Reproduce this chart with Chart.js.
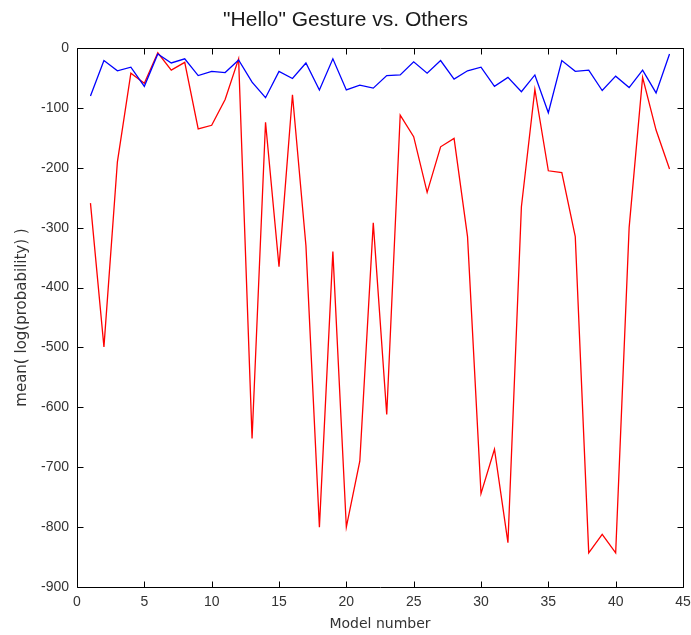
<!DOCTYPE html>
<html>
<head>
<meta charset="utf-8">
<script src="https://cdn.jsdelivr.net/npm/chart.js@4.4.1/dist/chart.umd.min.js"></script>
<style>
  html, body { margin: 0; padding: 0; background: #fff; }
  #wrap { width: 691px; height: 635px; }
</style>
</head>
<body>
<div id="wrap"><canvas id="c" width="691" height="635"></canvas></div>
<script>
const chartTitle = '"Hello" Gesture vs. Others';
const xAxisLabel = 'Model number';
const yAxisLabel = 'mean( log(probability) )';

const models = [1,2,3,4,5,6,7,8,9,10,11,12,13,14,15,16,17,18,19,20,21,22,23,24,25,26,27,28,29,30,31,32,33,34,35,36,37,38,39,40,41,42,43,44];

const helloScores = [-80,-21,-38,-32,-64,-10,-25,-18,-46,-39,-41,-20,-57,-83,-39,-51,-25,-70,-18,-70,-62,-67,-46,-45,-23,-42,-21,-52,-38,-32,-64,-49,-73,-45,-108,-21,-39,-37,-71,-47,-66,-37,-75,-10];

const otherScores = [-259,-499,-190,-42,-59,-8,-37,-24,-135,-129,-86,-18,-652,-124,-365,-78,-330,-800,-340,-800,-690,-292,-612,-112,-148,-241,-165,-151,-315,-744,-670,-826,-265,-69,-205,-208,-315,-843,-812,-843,-300,-49,-137,-202];

const xTicks = [0,5,10,15,20,25,30,35,40,45];
const yTicks = [0,-100,-200,-300,-400,-500,-600,-700,-800,-900];

const FONT = '"Liberation Sans", Arial, sans-serif';

const framePlugin = {
  id: 'frame',
  afterDatasetsDraw(chart) {
    const {ctx, chartArea: a, scales} = chart;
    const L = Math.round(a.left) + 0.5, R = Math.round(a.right) + 0.5;
    const T = Math.round(a.top) + 0.5, B = Math.round(a.bottom) + 0.5;
    const tl = 6;
    ctx.save();
    ctx.strokeStyle = '#000';
    ctx.lineWidth = 1;
    ctx.beginPath();
    ctx.rect(L, T, R - L, B - T);
    xTicks.forEach(v => {
      const px = Math.round(scales.x.getPixelForValue(v)) + 0.5;
      ctx.moveTo(px, B); ctx.lineTo(px, B - tl);
      ctx.moveTo(px, T); ctx.lineTo(px, T + tl);
    });
    yTicks.forEach(v => {
      const py = Math.round(scales.y.getPixelForValue(v)) + 0.5;
      ctx.moveTo(L, py); ctx.lineTo(L + tl, py);
      ctx.moveTo(R, py); ctx.lineTo(R - tl, py);
    });
    ctx.stroke();
    ctx.restore();
  }
};

new Chart(document.getElementById('c'), {
  type: 'line',
  data: {
    datasets: [
      {
        label: 'Hello',
        data: models.map((m, i) => ({x: m, y: helloScores[i]})),
        borderColor: '#0000ff',
        borderWidth: 1.3,
        pointRadius: 0,
        tension: 0,
        fill: false
      },
      {
        label: 'Others',
        data: models.map((m, i) => ({x: m, y: otherScores[i]})),
        borderColor: '#ff0000',
        borderWidth: 1.3,
        pointRadius: 0,
        tension: 0,
        fill: false
      }
    ]
  },
  options: {
    responsive: false,
    animation: false,
    events: [],
    layout: { padding: 0 },
    plugins: {
      legend: { display: false },
      tooltip: { enabled: false },
      title: {
        display: true,
        text: chartTitle,
        color: '#1a1a1a',
        font: { family: FONT, size: 21, weight: 'normal' },
        padding: { top: 7.4, bottom: 15.4 }
      }
    },
    scales: {
      x: {
        type: 'linear',
        min: 0,
        max: 45,
        afterBuildTicks: s => { s.ticks = xTicks.map(v => ({value: v})); },
        grid: { display: false, drawTicks: false },
        border: { display: false },
        ticks: {
          color: '#333',
          font: { family: FONT, size: 14 },
          padding: 7,
          maxRotation: 0,
          autoSkip: false
        },
        title: {
          display: true,
          text: xAxisLabel,
          color: '#333',
          font: { family: '"DejaVu Sans", sans-serif', size: 14 },
          padding: { top: 0, bottom: 2 }
        },
        afterFit: s => { s.height = 48; s.paddingLeft = 0; s.paddingRight = 8; }
      },
      y: {
        type: 'linear',
        min: -900,
        max: 0,
        afterBuildTicks: s => { s.ticks = yTicks.map(v => ({value: v})); },
        grid: { display: false, drawTicks: false },
        border: { display: false },
        ticks: {
          color: '#333',
          font: { family: FONT, size: 14 },
          padding: 8,
          autoSkip: false
        },
        title: {
          display: true,
          text: yAxisLabel,
          color: '#333',
          font: { family: '"DejaVu Sans", sans-serif', size: 15 },
          padding: { top: 13, bottom: 0 }
        },
        afterFit: s => { s.width = 77; s.paddingTop = 0; s.paddingBottom = 0; }
      }
    }
  },
  plugins: [framePlugin]
});
</script>
</body>
</html>
